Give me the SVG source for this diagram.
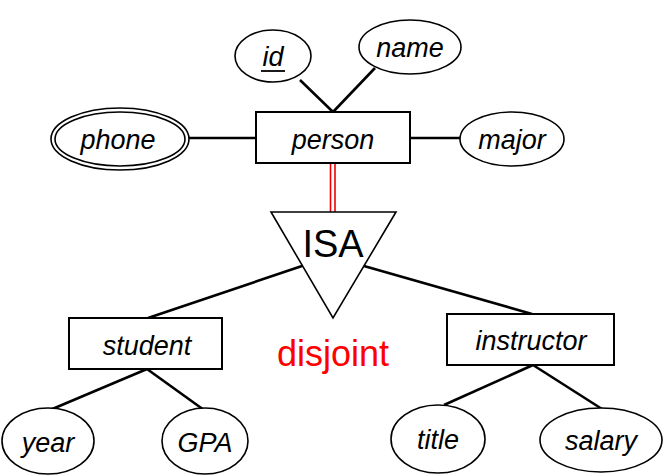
<svg xmlns="http://www.w3.org/2000/svg" width="669" height="476" viewBox="0 0 669 476">
<style>
.ent{fill:#fff;stroke:#000;stroke-width:2}
.att{fill:#fff;stroke:#000;stroke-width:1.6}
.t{font-family:"Liberation Sans",Arial,sans-serif;font-style:italic;font-size:27px;text-anchor:middle;fill:#000}
.ln{stroke:#000;stroke-width:2.6;fill:none}
</style>
<rect width="669" height="476" fill="#fff"/>
<g id="connectors">
<line class="ln" x1="300" y1="80" x2="333" y2="112"/>
<line class="ln" x1="375" y1="68" x2="333" y2="112"/>
<line class="ln" x1="188" y1="138" x2="256" y2="138"/>
<line class="ln" x1="410" y1="138" x2="461" y2="138"/>
<line x1="330.5" y1="163" x2="330.5" y2="212" stroke="#e00" stroke-width="1.6"/>
<line x1="335" y1="163" x2="335" y2="212" stroke="#e00" stroke-width="1.6"/>
<line class="ln" x1="302" y1="266" x2="148" y2="318"/>
<line class="ln" x1="364" y1="266" x2="532" y2="314"/>
<line class="ln" x1="147" y1="369" x2="50" y2="410"/>
<line class="ln" x1="147" y1="369" x2="204" y2="410"/>
<line class="ln" x1="533" y1="365" x2="444" y2="405"/>
<line class="ln" x1="533" y1="365" x2="602" y2="409"/>
</g>
<g id="id"><ellipse class="att" cx="273" cy="56" rx="38" ry="26"/><text class="t" x="273" y="66">id</text><line x1="261" y1="71" x2="285" y2="71" stroke="#000" stroke-width="1.8"/></g>
<g id="name"><ellipse class="att" cx="410" cy="47" rx="51" ry="27"/><text class="t" x="410" y="57">name</text></g>
<g id="person"><rect class="ent" x="256" y="112" width="154" height="51"/><text class="t" x="333" y="149">person</text></g>
<g id="phone"><ellipse class="att" cx="120" cy="139" rx="69" ry="31"/><ellipse class="att" cx="120" cy="139" rx="65" ry="27"/><text class="t" x="118" y="149">phone</text></g>
<g id="major"><ellipse class="att" cx="512" cy="139" rx="52" ry="27"/><text class="t" x="512" y="149">major</text></g>
<g id="isa"><polygon points="271,212 396,212 333,318" fill="#fff" stroke="#000" stroke-width="1.6"/><text x="333" y="257" font-family="Liberation Sans,Arial,sans-serif" font-size="38" text-anchor="middle">ISA</text></g>
<text x="333" y="366" font-family="Liberation Sans,Arial,sans-serif" font-size="36" text-anchor="middle" fill="#f00">disjoint</text>
<g id="student"><rect class="ent" x="69" y="318" width="153" height="51"/><text class="t" x="147" y="355">student</text></g>
<g id="instructor"><rect class="ent" x="447" y="314" width="167" height="51"/><text class="t" x="531" y="350">instructor</text></g>
<g id="year"><ellipse class="att" cx="48" cy="441" rx="46" ry="33"/><text class="t" x="48" y="452">year</text></g>
<g id="GPA"><ellipse class="att" cx="205" cy="441" rx="43" ry="33"/><text class="t" x="205" y="452">GPA</text></g>
<g id="title"><ellipse class="att" cx="438" cy="439" rx="47" ry="34"/><text class="t" x="438" y="449">title</text></g>
<g id="salary"><ellipse class="att" cx="601" cy="440" rx="61" ry="32"/><text class="t" x="601" y="450">salary</text></g>
</svg>
